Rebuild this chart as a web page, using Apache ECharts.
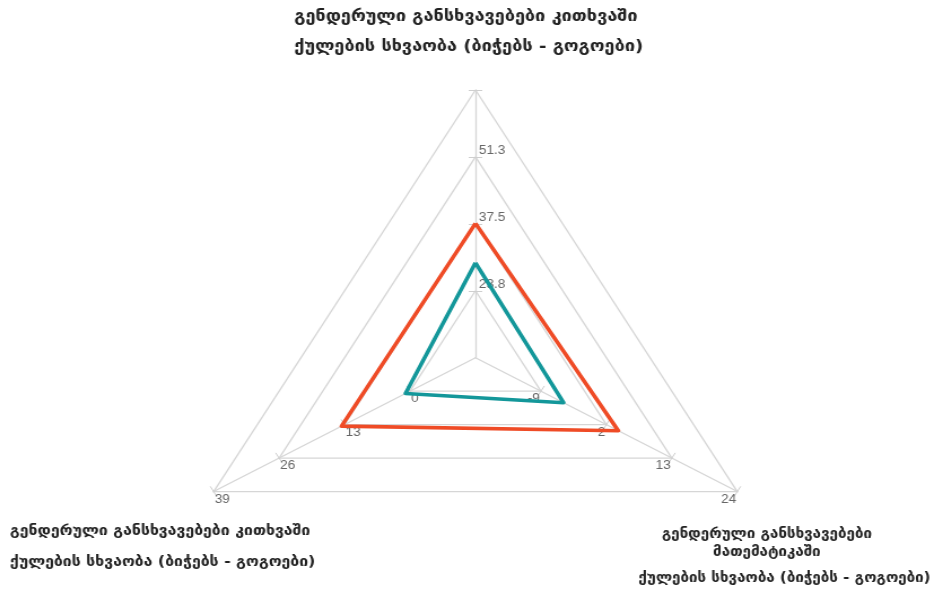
<!DOCTYPE html>
<html><head><meta charset="utf-8">
<script src="https://cdn.jsdelivr.net/npm/echarts@6/dist/echarts.min.js"></script>
<style>
html,body{margin:0;padding:0;background:#fff;overflow:hidden}
#wrap{width:934px;height:593px;overflow:hidden;position:relative}
#chart{width:827px;height:593px;transform:scaleX(1.12938);transform-origin:0 0}
</style></head>
<body><div id="wrap"><div id="chart"></div></div>
<script>
// ---- data ----
const readingName = 'გენდერული განსხვავებები კითხვაში';
const mathNameLines = ['გენდერული განსხვავებები', 'მათემატიკაში'];
const subName = 'ქულების სხვაობა (ბიჭებს - გოგოები)';
const indicatorKeys = ['reading_top', 'reading_left', 'math_right'];
const axisMin = [10, -13, -20];
const axisMax = [65, 39, 24];
const splitCount = 4;
const seriesNames = ['სერია 1', 'სერია 2'];
const redValues = [37.6, 13.6, 4.0];
const tealValues = [29.5, 0.9, -5.2];
const seriesColors = ['#EF4B26', '#13979A'];

// ---- chart ----
const fmt = v => Math.abs(v - Math.round(v)) < 1e-9 ? String(Math.round(v)) : v.toFixed(1);
const labelBase = { show: true, color: '#666', fontSize: 12, fontFamily: 'Liberation Sans, Arial, sans-serif' };
const labelCfg = [
  Object.assign({}, labelBase, { align: 'left', verticalAlign: 'bottom', margin: -3,
    formatter: (v, i) => (i === 0 || v >= axisMax[0]) ? '' : fmt(v) }),
  Object.assign({}, labelBase, { align: 'left', verticalAlign: 'top', margin: 2,
    formatter: (v, i) => (i === 0) ? '' : fmt(v) }),
  Object.assign({}, labelBase, { align: 'right', verticalAlign: 'top', margin: -2,
    formatter: (v, i) => (i === 0) ? '' : fmt(v) })
];
const center = [421, 357.7];
const radius = 267.7;

function ringValues(i) {
  const out = [];
  for (let k = 1; k <= splitCount; k++) out.push(axisMin[i] + k * (axisMax[i] - axisMin[i]) / splitCount);
  return out;
}
function indicators(withLabels) {
  return indicatorKeys.map((k, i) => {
    const o = { name: '', min: axisMin[i], max: axisMax[i], axisTick: { customValues: ringValues(i) } };
    if (withLabels) o.axisLabel = labelCfg[i];
    return o;
  });
}

const chart = echarts.init(document.getElementById('chart'), null, { renderer: 'canvas' });
const textColor = '#222';
function txt(text, x, y, size, align) {
  return { type: 'text', x: x, y: y, silent: true,
    style: { text: text, font: 'bold ' + size + 'px "DejaVu Sans", sans-serif', fill: textColor,
             align: align || 'center', verticalAlign: 'middle' } };
}
chart.setOption({
  animation: false,
  backgroundColor: '#fff',
  radar: [{
    center: center, radius: radius, startAngle: 90, shape: 'polygon', splitNumber: splitCount,
    indicator: indicators(true),
    axisName: { show: false },
    splitArea: { show: false },
    splitLine: { lineStyle: { color: '#d6d6d6', width: 1.3 } },
    axisLine: { lineStyle: { color: '#d6d6d6', width: 1.3 } },
    axisTick: { show: true, length: 6, lineStyle: { color: '#cfcfcf', width: 1 } },
    axisLabel: { show: true }
  }, {
    center: center, radius: radius, startAngle: 90, shape: 'polygon', splitNumber: splitCount,
    indicator: indicators(false),
    axisName: { show: false },
    splitArea: { show: false },
    splitLine: { show: false },
    axisLine: { show: false },
    axisTick: { show: true, length: -6, lineStyle: { color: '#cfcfcf', width: 1 } },
    axisLabel: { show: false }
  }],
  series: [{
    type: 'radar', radarIndex: 0, symbol: 'none',
    data: [
      { name: seriesNames[0], value: redValues, lineStyle: { color: seriesColors[0], width: 3.6 }, itemStyle: { color: seriesColors[0] } },
      { name: seriesNames[1], value: tealValues, lineStyle: { color: seriesColors[1], width: 3.6 }, itemStyle: { color: seriesColors[1] } }
    ]
  }],
  graphic: [
    txt(readingName, 260.5, 17, 16, 'left'),
    txt(subName, 260.5, 47, 16, 'left'),
    txt(readingName, 8.8, 531, 14, 'left'),
    txt(subName, 8.8, 562, 14, 'left'),
    txt(mathNameLines[0], 679, 535, 13.4),
    txt(mathNameLines[1], 679, 553, 13.4),
    txt(subName, 694.6, 579, 13.4)
  ]
});
</script></body></html>
